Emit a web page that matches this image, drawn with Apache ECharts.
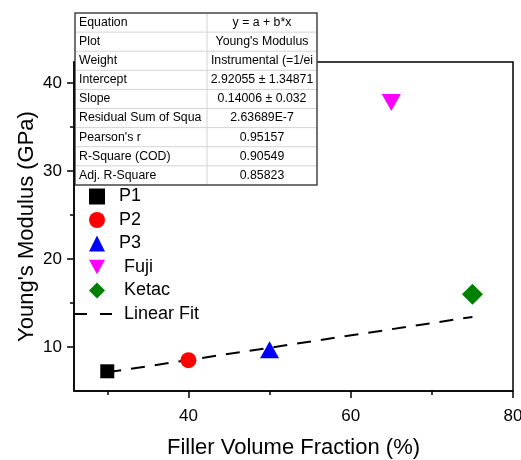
<!DOCTYPE html>
<html>
<head>
<meta charset="utf-8">
<script src="https://cdn.jsdelivr.net/npm/echarts@6/dist/echarts.min.js"></script>
<style>
  html, body { margin: 0; padding: 0; background: #fff; }
  #chart { width: 521px; height: 460px; }
</style>
</head>
<body>
<div id="chart"></div>
<script>
// points
var p1 = [[30, 7.24]];
var p2 = [[40, 8.5]];
var p3 = [[50, 9.7]];
var fuji = [[65, 37.8]];
var ketac = [[75, 16.0]];
// fit line end points (y = 2.92055 + 0.14006 x)
var fit = [[30, 7.12], [75, 13.42]];

var xMajor = [40, 60, 80];
var xMinor = [30, 50, 70];
var yMajor = [10, 20, 30, 40];
var yMinor = [15, 25, 35];

var tableLabels = ['Equation', 'Plot', 'Weight', 'Intercept', 'Slope',
    'Residual Sum of Squa', "Pearson's r", 'R-Square (COD)', 'Adj. R-Square'];
var tableValues = ['y = a + b*x', "Young's Modulus", 'Instrumental (=1/ei',
    '2.92055 \u00b1 1.34871', '0.14006 \u00b1 0.032', '2.63689E-7',
    '0.95157', '0.90549', '0.85823'];

var FONT = 'Arial, "Liberation Sans", sans-serif';

function build_table(){
    var left = 75, right = 317, top = 13, mid = 207;
    var rowH = 19.1;
    var n = tableLabels.length;
    var children = [{
        type: 'rect',
        shape: { x: left, y: top, width: right - left, height: rowH * n },
        style: { fill: '#fff', stroke: null }
    }];
    for(var i = 1; i < n; i++){
        children.push({
            type: 'line',
            shape: { x1: left, y1: top + rowH * i, x2: right, y2: top + rowH * i },
            style: { stroke: '#d4d4d4', lineWidth: 1 }
        });
    }
    children.push({
        type: 'line',
        shape: { x1: mid, y1: top, x2: mid, y2: top + rowH * n },
        style: { stroke: '#d4d4d4', lineWidth: 1 }
    });
    for(var j = 0; j < n; j++){
        var cy = top + rowH * (j + 0.5);
        children.push({
            type: 'text',
            style: { text: tableLabels[j], x: left + 4, y: cy, fill: '#000',
                font: '12.3px ' + FONT, textVerticalAlign: 'middle' }
        });
        children.push({
            type: 'text',
            style: { text: tableValues[j], x: (mid + right) / 2, y: cy, fill: '#000',
                font: '12.3px ' + FONT, textAlign: 'center', textVerticalAlign: 'middle' }
        });
    }
    children.push({
        type: 'rect',
        shape: { x: left, y: top, width: right - left, height: rowH * n },
        style: { fill: null, stroke: '#444', lineWidth: 1.5 }
    });
    return [{ type: 'group', z: 100, children: children }];
}

var invTri = 'path://M0,0 L10,0 L5,9 Z';
var dashIcon = 'path://M0,0 h12 v2 h-12 Z M25,0 h12 v2 h-12 Z';

var option = {
    backgroundColor: '#fff',
    animation: false,
    textStyle: { fontFamily: FONT },
    grid: {
        left: 74, right: 8, top: 62, bottom: 69,
        outerBoundsMode: 'none',
        show: true, borderColor: '#000', borderWidth: 1.5
    },
    legend: [{
        orient: 'vertical',
        left: 89,
        top: 187.5,
        padding: 0,
        itemWidth: 16,
        itemHeight: 16,
        itemGap: 5.5,
        textStyle: { color: '#000', fontSize: 18, fontFamily: FONT, padding: [0, 0, 0, 9] },
        formatter: function (name) {
            return name.length > 2 ? ' ' + name : name;
        },
        data: [
            { name: 'P1', icon: 'rect' },
            { name: 'P2', icon: 'circle' },
            { name: 'P3', icon: 'triangle' },
            { name: 'Fuji', icon: invTri },
            { name: 'Ketac', icon: 'diamond' }
        ]
    }, {
        orient: 'vertical',
        left: 75,
        top: 305,
        padding: 0,
        itemWidth: 37,
        itemHeight: 2,
        textStyle: { color: '#000', fontSize: 18, fontFamily: FONT, padding: [0, 0, 0, 2] },
        formatter: function (name) { return ' ' + name; },
        data: [{ name: 'Linear Fit', icon: dashIcon, itemStyle: { color: '#000' } }]
    }],
    xAxis: [{
        type: 'value',
        min: 25.9,
        max: 80,
        name: 'Filler Volume Fraction (%)',
        nameLocation: 'middle',
        nameGap: 46,
        nameMoveOverlap: false,
        nameTextStyle: { color: '#000', fontSize: 22, fontFamily: FONT },
        axisLine: { lineStyle: { color: '#000', width: 1.5 } },
        axisTick: { customValues: xMajor, length: 7, lineStyle: { color: '#000', width: 1.5 } },
        axisLabel: { customValues: xMajor, color: '#000', fontSize: 17, margin: 17 },
        splitLine: { show: false }
    }, {
        type: 'value',
        min: 25.9,
        max: 80,
        position: 'bottom',
        axisLine: { show: false },
        axisTick: { customValues: xMinor, length: 4, lineStyle: { color: '#000', width: 1.5 } },
        axisLabel: { show: false },
        splitLine: { show: false }
    }],
    yAxis: [{
        type: 'value',
        min: 5,
        max: 42.4,
        name: "Young's Modulus (GPa)",
        nameLocation: 'middle',
        nameGap: 36.5,
        nameMoveOverlap: false,
        nameTextStyle: { color: '#000', fontSize: 22, fontFamily: FONT },
        axisLine: { show: true, lineStyle: { color: '#000', width: 1.5 } },
        axisTick: { show: true, customValues: yMajor, length: 7, lineStyle: { color: '#000', width: 1.5 } },
        axisLabel: { customValues: yMajor, color: '#000', fontSize: 17, margin: 12 },
        splitLine: { show: false }
    }, {
        type: 'value',
        min: 5,
        max: 42.4,
        position: 'left',
        axisLine: { show: false },
        axisTick: { show: true, customValues: yMinor, length: 4, lineStyle: { color: '#000', width: 1.5 } },
        axisLabel: { show: false },
        splitLine: { show: false }
    }],
    graphic: build_table(),
    series: [{
        type: 'scatter', name: 'P1', data: p1,
        symbol: 'rect', symbolSize: 14, itemStyle: { color: '#000', opacity: 1 }, z: 5
    }, {
        type: 'scatter', name: 'P2', data: p2,
        symbol: 'circle', symbolSize: 16, itemStyle: { color: '#ff0000', opacity: 1 }, z: 5
    }, {
        type: 'scatter', name: 'P3', data: p3,
        symbol: 'triangle', symbolSize: [19, 17], itemStyle: { color: '#0000ff', opacity: 1 }, z: 5
    }, {
        type: 'scatter', name: 'Fuji', data: fuji,
        symbol: invTri, symbolSize: [19, 17], itemStyle: { color: '#ff00ff', opacity: 1 }, z: 5
    }, {
        type: 'scatter', name: 'Ketac', data: ketac,
        symbol: 'diamond', symbolSize: 21, itemStyle: { color: '#008000', opacity: 1 }, z: 5
    }, {
        type: 'line', name: 'Linear Fit', data: fit,
        symbol: 'none', showSymbol: false,
        itemStyle: { color: '#000' },
        lineStyle: { color: '#000', width: 2, type: [14, 10] },
        z: 3
    }]
};

var myChart = echarts.init(document.getElementById('chart'));
myChart.setOption(option);
</script>
</body>
</html>
